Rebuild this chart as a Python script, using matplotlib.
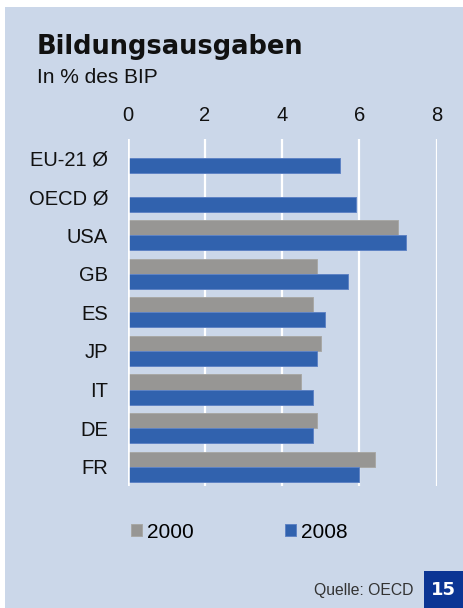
import numpy as np
import matplotlib
matplotlib.use('Agg')
from matplotlib import pyplot as plt
from matplotlib.patches import Rectangle

plt.rcParams['font.family'] = ['Liberation Sans', 'DejaVu Sans']

# data
laender = ['EU-21 Ø', 'OECD Ø', 'USA', 'GB', 'ES', 'JP', 'IT', 'DE', 'FR']
werte_2000 = [np.nan, np.nan, 7.0, 4.9, 4.8, 5.0, 4.5, 4.9, 6.4]
werte_2008 = [5.5, 5.9, 7.2, 5.7, 5.1, 4.9, 4.8, 4.8, 6.0]
jahre = ['2000', '2008']
xticks = [0, 2, 4, 6, 8]

bg = '#cbd7e9'
grau = '#979694'
blau = '#3162ae'

W, H = 463, 608
fig = plt.figure(figsize=(W / 100, H / 100), dpi=100)
fig.patch.set_facecolor('white')
fig.patches.append(Rectangle((5 / W, 0), 1, (H - 7) / H, transform=fig.transFigure,
                             facecolor=bg, edgecolor='none', zorder=-10))

ax = fig.add_axes([127.5 / W, 1 - 486 / H, (436.7 - 127.5) / W, (486 - 138.7) / H])
ax.set_facecolor('none')

y = np.arange(len(laender))
h = 0.39
b1 = ax.barh(y - h / 2, werte_2000, height=h, color=grau, edgecolor='#a8a8a6',
             linewidth=0.7, label=jahre[0], zorder=2)
b2 = ax.barh(y + h / 2, werte_2008, height=h, color=blau, edgecolor='#5f83c4',
             linewidth=0.7, label=jahre[1], zorder=2)

ax.set_xlim(0, 8)
ax.set_ylim(len(laender) - 0.5, -0.5)
ax.set_xticks(xticks)
ax.set_yticks(y)
ax.set_yticklabels(laender)
ax.xaxis.tick_top()
ax.tick_params(axis='x', length=0, pad=10, labelsize=14.5, colors='#111111')
ax.tick_params(axis='y', length=0, pad=14, labelsize=14.5, colors='#111111')
for s in ax.spines.values():
    s.set_visible(False)
ax.grid(axis='x', color='white', linewidth=1.6, zorder=1)
ax.grid(axis='y', visible=False)
ax.axvline(0, color='white', linewidth=2.6, zorder=3)

fig.text(37 / W, 1 - 54 / H, 'Bildungsausgaben', family='DejaVu Sans', weight='bold',
         fontsize=18.5, color='#111111', va='baseline')
fig.text(37 / W, 1 - 83 / H, 'In % des BIP', fontsize=15, color='#111111', va='baseline')

fig.legend(handles=[b1, b2], loc='center left', bbox_to_anchor=(131 / W, 1 - 532 / H),
           ncol=2, frameon=False, fontsize=15, borderpad=0, borderaxespad=0,
           handlelength=0.55, handleheight=0.55, handletextpad=0.2, columnspacing=4.4)

fig.text(414 / W, 1 - 590 / H, 'Quelle: OECD', fontsize=11.3, color='#333333',
         ha='right', va='center')
fig.patches.append(Rectangle((424 / W, 0), (W - 424) / W, 37 / H, transform=fig.transFigure,
                             facecolor='#0b3594', edgecolor='none', zorder=1))
fig.text(443.5 / W, 1 - 590 / H, '15', family='DejaVu Sans', weight='bold', fontsize=13,
         color='white', ha='center', va='center')

fig.savefig('out.png', dpi=100)
